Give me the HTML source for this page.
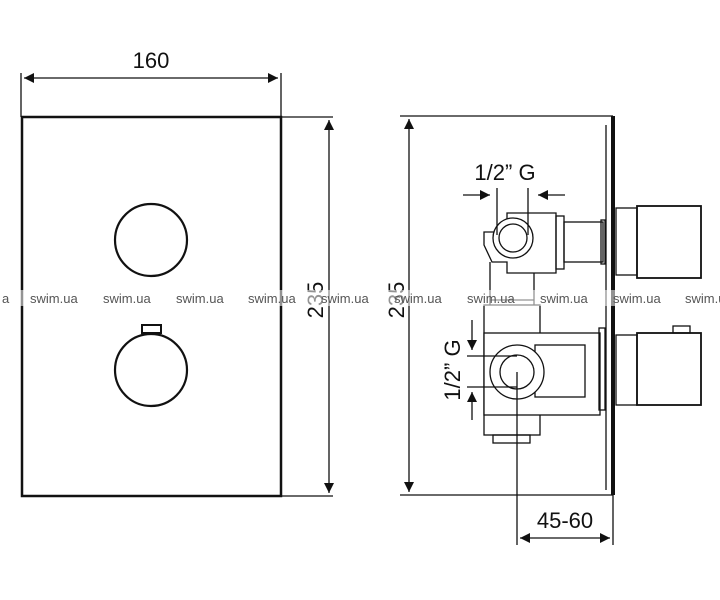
<!DOCTYPE html><html><head><style>body{margin:0;background:#fff}svg{display:block}</style></head><body>
<svg width="720" height="600" viewBox="0 0 720 600" xmlns="http://www.w3.org/2000/svg" font-family="Liberation Sans, sans-serif">
<defs><marker id="a" viewBox="0 0 10 10" refX="10" refY="5" markerWidth="14" markerHeight="10" markerUnits="userSpaceOnUse" orient="auto-start-reverse"><path d="M0,0L10,5L0,10z" fill="#111"/></marker></defs>
<g stroke="#111" fill="none" stroke-width="1.3">
<rect x="22" y="117" width="259" height="379" stroke-width="2.5"/>
<line x1="21" y1="73" x2="21" y2="117"/><line x1="281" y1="73" x2="281" y2="117"/>
<line x1="24" y1="78" x2="278" y2="78" marker-start="url(#a)" marker-end="url(#a)"/>
<circle cx="151" cy="240" r="36" stroke-width="2.2"/>
<circle cx="151" cy="370" r="36" stroke-width="2.2"/>
<rect x="142" y="325" width="19" height="8" stroke-width="2"/>
<line x1="281" y1="117" x2="333" y2="117"/><line x1="281" y1="496" x2="333" y2="496"/>
<line x1="329" y1="120" x2="329" y2="493" marker-start="url(#a)" marker-end="url(#a)"/>
<line x1="400" y1="116" x2="613" y2="116"/><line x1="400" y1="495" x2="613" y2="495"/>
<line x1="409" y1="119" x2="409" y2="492" marker-start="url(#a)" marker-end="url(#a)"/>
<line x1="613" y1="116" x2="613" y2="495" stroke-width="4"/>
<line x1="606" y1="125" x2="606" y2="490"/>
<rect x="616" y="208" width="21" height="67"/>
<rect x="637" y="206" width="64" height="72" stroke-width="1.8"/>
<rect x="616" y="335" width="21" height="70"/>
<rect x="637" y="333" width="64" height="72" stroke-width="1.8"/>
<rect x="673" y="326" width="17" height="7"/>
<path d="M484,245 L484,232 L507,232 L507,213 L556,213 L556,273 L507,273 L507,262 L492,262 Z"/>
<rect x="556" y="216" width="8" height="53"/>
<rect x="564" y="222" width="39" height="40"/>
<rect x="601" y="220" width="4" height="44"/>
<circle cx="513" cy="238" r="20" fill="#fff"/><circle cx="513" cy="238" r="14"/>
<line x1="490" y1="262" x2="490" y2="305"/><line x1="534" y1="273" x2="534" y2="305"/>
<line x1="490" y1="300" x2="534" y2="300"/>
<line x1="497" y1="188" x2="497" y2="235"/><line x1="528" y1="188" x2="528" y2="235"/>
<line x1="463" y1="195" x2="490" y2="195" marker-end="url(#a)"/>
<line x1="565" y1="195" x2="538" y2="195" marker-end="url(#a)"/>
<rect x="484" y="305" width="56" height="130"/>
<rect x="484" y="333" width="116" height="82" fill="#fff"/>
<rect x="535" y="345" width="50" height="52"/>
<rect x="599" y="328" width="6" height="82"/>
<rect x="493" y="435" width="37" height="8"/>
<circle cx="517" cy="372" r="27" fill="#fff"/><circle cx="517" cy="372" r="17"/>
<line x1="517" y1="372" x2="517" y2="545"/>
<line x1="467" y1="356" x2="517" y2="356"/><line x1="467" y1="387" x2="517" y2="387"/>
<line x1="472" y1="320" x2="472" y2="350" marker-end="url(#a)"/>
<line x1="472" y1="420" x2="472" y2="392" marker-end="url(#a)"/>
<line x1="613" y1="495" x2="613" y2="545"/>
<line x1="520" y1="538" x2="610" y2="538" marker-start="url(#a)" marker-end="url(#a)"/>
</g>
<g fill="#111" font-size="22">
<text x="151" y="68" text-anchor="middle">160</text>
<text x="505" y="180" text-anchor="middle">1/2” G</text>
<text x="565" y="528" text-anchor="middle">45-60</text>
<text transform="translate(323,300) rotate(-90)" text-anchor="middle">235</text>
<text transform="translate(404,300) rotate(-90)" text-anchor="middle">235</text>
<text transform="translate(460,370) rotate(-90)" text-anchor="middle">1/2” G</text>
</g>
<g font-size="13" fill="#555">
<rect x="0" y="290" width="720" height="16" fill="#fff" opacity="0.55"/>
<text x="2" y="303">a</text><text x="30" y="303">swim.ua</text><text x="103" y="303">swim.ua</text><text x="176" y="303">swim.ua</text><text x="248" y="303">swim.ua</text><text x="321" y="303">swim.ua</text><text x="394" y="303">swim.ua</text><text x="467" y="303">swim.ua</text><text x="540" y="303">swim.ua</text><text x="613" y="303">swim.ua</text><text x="685" y="303">swim.ua</text>
</g>
</svg></body></html>
